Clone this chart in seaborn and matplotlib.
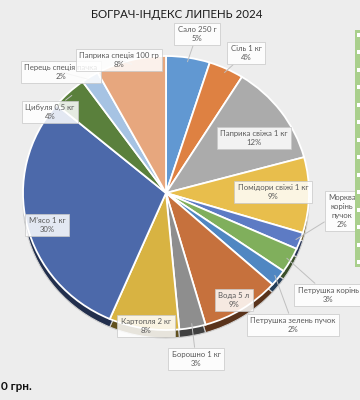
import matplotlib
matplotlib.use("Agg")
import matplotlib.pyplot as plt
import matplotlib.colors as mcolors
from matplotlib.patches import Rectangle
import numpy as np
import seaborn as sns

sns.set_style("white")
plt.rcParams['font.family'] = ['Lato', 'DejaVu Sans']

# data (clockwise from 12 o'clock)
items = ["Сало 250 г", "Сіль 1 кг", "Паприка свіжа 1 кг", "Помідори свіжі 1 кг",
         "Морква\nкорінь\nпучок", "Петрушка корінь", "Петрушка зелень пучок",
         "Вода 5 л", "Борошно 1 кг", "Картопля 2 кг", "М’ясо 1 кг",
         "Цибуля 0,5 кг", "Перець спеція пачка", "Паприка спеція 100 гр"]
shares = [5, 4, 12, 9, 2, 3, 2, 9, 3, 8, 30, 4, 2, 8]
colors = ["#6198D2", "#DE8142", "#ABABAB", "#E8BE4C", "#5D7BC4", "#80AF5C",
          "#5087C2", "#C6713D", "#8E8E8E", "#D8B342", "#4C69AA",
          "#5A803C", "#A6C3E3", "#E7A77E"]

# layout: label box centres in pixels (x from left, y from top), and whether a leader line is drawn
label_px = [(197, 34), (246, 53), (254, 138), (273, 192), (342, 211), (328, 295),
            (293, 325), (234, 300), (196, 359), (146, 326), (47, 225),
            (50, 112), (61, 72), (119, 60)]
leader = [True, True, False, False, True, True, True, False, True, False, False,
          True, True, True]

BG = "#EDEDED"
CX, CY, RX, RY = 166, 193, 143, 137

def to_data(px, py):
    return (px - CX) / RX, (CY - py) / RY

fig = plt.figure(figsize=(3.6, 4), dpi=100, facecolor=BG)
ax = fig.add_axes([0, 0, 1, 1])
ax.set_facecolor(BG)

# 3D-ish side of the pie
shadow = [tuple(np.array(mcolors.to_rgb(c)) * 0.45) for c in colors]
ax.pie(shares, colors=shadow, startangle=90, counterclock=False, radius=1,
       center=(0, -8 / RY), wedgeprops=dict(edgecolor="#D0D0D0", linewidth=0.8, zorder=1))
wedges, _ = ax.pie(shares, colors=colors, startangle=90, counterclock=False, radius=1,
                   wedgeprops=dict(edgecolor="white", linewidth=1.3, zorder=2))

ax.set_xlim(-CX / RX, (360 - CX) / RX)
ax.set_ylim(-(400 - CY) / RY, CY / RY)
ax.set_aspect("auto")
ax.axis("off")

for w, name, val, (px, py), lead in zip(wedges, items, shares, label_px, leader):
    th = np.deg2rad((w.theta1 + w.theta2) / 2)
    tip = (0.97 * np.cos(th), 0.97 * np.sin(th))
    arrow = dict(arrowstyle="-", color="#BFBFBF", lw=0.7, shrinkA=0, shrinkB=0) if lead else None
    ax.annotate(f"{name}\n{val}%", xy=tip, xytext=to_data(px, py),
                ha="center", va="center", fontsize=5.6, color="#595959",
                linespacing=1.3, annotation_clip=False, zorder=5,
                bbox=dict(boxstyle="square,pad=0.45", fc="white", ec="#C8C8C8",
                          lw=0.6, alpha=0.85),
                arrowprops=arrow)

fig.text(177 / 360, 1 - 15 / 400, "БОГРАЧ-ІНДЕКС ЛИПЕНЬ 2024", ha="center", va="center",
         fontsize=8.3, color="#1A1A1A")
fig.text(1 / 360, 1 - 387 / 400, "0 грн.", ha="left", va="center",
         fontsize=8.5, fontweight="bold", color="#111111")

# cropped green table on the right edge
fig.add_artist(Rectangle((355 / 360, 1 - 267 / 400), 6 / 360, 237 / 400,
                         transform=fig.transFigure, fc="#A9CF8C", ec="none"))
for yy in np.linspace(35, 262, 14):
    fig.add_artist(Rectangle((356.5 / 360, 1 - (yy + 2) / 400), 3 / 360, 4 / 400,
                             transform=fig.transFigure, fc="white", ec="none"))

fig.savefig("out.png", dpi=100, facecolor=BG)
